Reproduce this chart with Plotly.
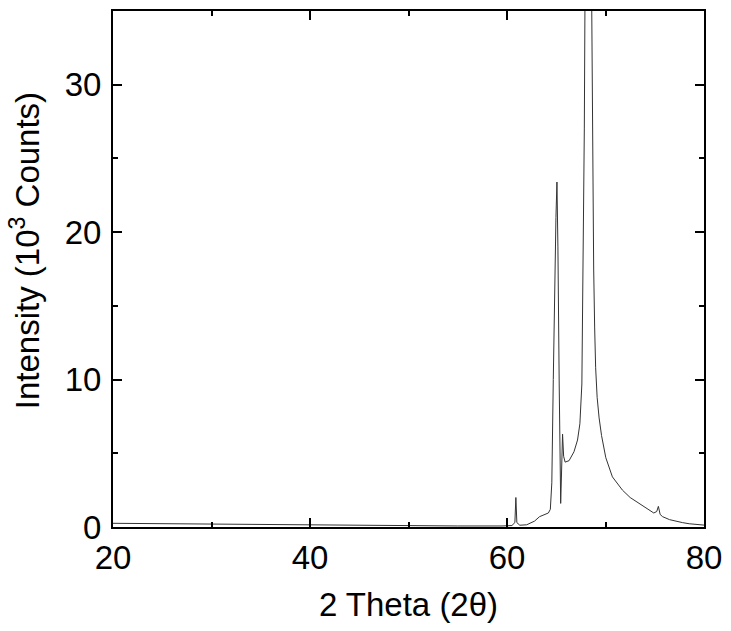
import plotly.graph_objects as go

two_theta = [20, 25, 30, 35, 40, 45, 50, 55, 59.5, 60.5, 60.8, 60.9, 61.0, 61.3, 62, 62.8,
             63.3, 63.8, 64.2, 64.4, 64.55, 64.7, 64.85, 64.97, 65.07, 65.17, 65.3, 65.45,
             65.55, 65.64, 65.75, 65.9, 66.3, 66.8, 67.16, 67.4, 67.6, 67.75, 67.85, 67.95,
             68.25, 68.55, 68.62, 68.7, 68.8, 68.9, 69.0, 69.15, 69.35, 69.6, 70.03, 70.7,
             71.72, 72.5, 73.4, 74.2, 74.9, 75.2, 75.37, 75.55, 75.8, 76.5, 77.2, 77.8,
             78.5, 79.2, 80]
intensity = [0.25, 0.22, 0.18, 0.15, 0.12, 0.10, 0.08, 0.07, 0.07, 0.10, 0.3, 2.0, 0.3, 0.12, 0.15, 0.4,
             0.7, 0.85, 0.95, 1.2, 3.0, 10.0, 17.0, 21.0, 23.4, 19.0, 9.7, 1.6,
             4.0, 6.3, 4.8, 4.4, 4.5, 5.1, 5.9, 7.0, 9.7, 19.0, 27.0, 40.0,
             90.0, 40.0, 31.0, 24.0, 17.5, 13.5, 10.8, 8.8, 7.4, 6.2, 4.7, 3.4,
             2.5, 2.0, 1.6, 1.25, 0.95, 1.05, 1.4, 0.85, 0.7, 0.5, 0.38, 0.3,
             0.22, 0.17, 0.13]

font_family = "Liberation Sans, Arial, sans-serif"

fig = go.Figure()
fig.add_trace(go.Scatter(x=two_theta, y=intensity, mode="lines",
                         line=dict(color="#333333", width=1), showlegend=False))

axis_common = dict(
    showgrid=False, zeroline=False, showline=True, linecolor="black", linewidth=2,
    mirror="allticks", ticks="inside", ticklen=9, tickwidth=2, tickcolor="black",
    tickfont=dict(family=font_family, size=33, color="black"),
)

fig.update_xaxes(range=[20, 80], tickvals=[20, 40, 60, 80],
                 minor=dict(ticks="inside", ticklen=5, tickwidth=1.5, tickcolor="black",
                            tickvals=[30, 50, 70]),
                 title=dict(text="2 Theta (2θ)", font=dict(family=font_family, size=33, color="black"),
                            standoff=18),
                 **axis_common)
fig.update_yaxes(range=[0, 35], tickvals=[0, 10, 20, 30],
                 minor=dict(ticks="inside", ticklen=5, tickwidth=1.5, tickcolor="black",
                            tickvals=[5, 15, 25]),
                 ticklabelstandoff=3,
                 **axis_common)

fig.add_annotation(text="Intensity (10<sup>3</sup> Counts)", textangle=-90,
                   xref="paper", yref="paper", x=(25 - 113) / 592, y=(527 - 250) / 518,
                   xanchor="center", yanchor="middle", showarrow=False,
                   font=dict(family=font_family, size=33, color="black"))

fig.update_layout(width=731, height=631, margin=dict(l=113, r=26, t=9, b=104),
                  paper_bgcolor="white", plot_bgcolor="white")

fig.write_html("out.html")
